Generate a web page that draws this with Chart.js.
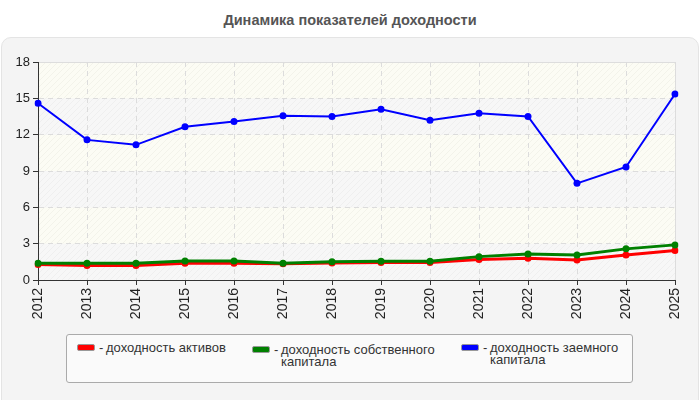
<!DOCTYPE html>
<html>
<head>
<meta charset="utf-8">
<script src="https://cdn.jsdelivr.net/npm/chart.js@4.4.1/dist/chart.umd.min.js"></script>
<style>
  html, body { margin: 0; padding: 0; background: #fff; }
  body { width: 700px; height: 400px; position: relative; overflow: hidden; font-family: "Liberation Sans", Arial, sans-serif; }
  #title { position: absolute; top: 12px; left: 0; width: 700px; text-align: center; font-weight: bold; font-size: 14.5px; color: #555; }
  #panel { position: absolute; top: 37px; left: 1px; width: 696px; height: 380px; background: #f4f4f4; border: 1px solid #e4e4e4; border-radius: 10px; }
  #wrap { position: absolute; top: 0; left: 0; width: 700px; height: 330px; }
  #legend { position: absolute; top: 334px; left: 66px; width: 565px; height: 47px; background: #fafafa; border: 1px solid #aaa; border-radius: 3px; }
  .item { position: absolute; font-size: 13px; color: #333; line-height: 12px; }
  .sw { position: absolute; left: 0; top: 0; width: 16px; height: 5px; border: 1px solid #999; border-radius: 2px; }
  .dash { position: absolute; left: 22px; top: -2px; }
  .txt { position: absolute; left: 29px; top: -2px; white-space: nowrap; }
</style>
</head>
<body>
<div id="title">Динамика показателей доходности</div>
<div id="panel"></div>
<div id="wrap"><canvas id="chart"></canvas></div>
<div id="legend"></div>
<script>
// данные
const years = ['2012','2013','2014','2015','2016','2017','2018','2019','2020','2021','2022','2023','2024','2025'];
const assetsReturn = [1.27, 1.2, 1.2, 1.38, 1.38, 1.35, 1.4, 1.44, 1.44, 1.69, 1.8, 1.66, 2.07, 2.43];
const equityReturn = [1.38, 1.38, 1.38, 1.57, 1.57, 1.38, 1.5, 1.55, 1.55, 1.93, 2.15, 2.07, 2.57, 2.9];
const debtReturn = [14.6, 11.57, 11.16, 12.65, 13.09, 13.56, 13.5, 14.1, 13.2, 13.76, 13.5, 7.98, 9.33, 15.36];
const seriesNames = [['доходность активов'], ['доходность собственного', 'капитала'], ['доходность заемного', 'капитала']];
const seriesColors = ['#ff0000', '#008000', '#0000ff'];
const yTicks = [0, 3, 6, 9, 12, 15, 18];

function hatch(bg, line) {
  const c = document.createElement('canvas');
  c.width = 6; c.height = 6;
  const x = c.getContext('2d');
  x.fillStyle = bg; x.fillRect(0, 0, 6, 6);
  x.strokeStyle = line; x.lineWidth = 1;
  x.beginPath();
  x.moveTo(0, 6); x.lineTo(6, 0);
  x.moveTo(-1, 1); x.lineTo(1, -1);
  x.moveTo(5, 7); x.lineTo(7, 5);
  x.stroke();
  return x.createPattern(c, 'repeat');
}

const bandsPlugin = {
  id: 'bands',
  beforeDraw(chart) {
    const { ctx, chartArea: a, scales: { y } } = chart;
    const gray = hatch('#f7f7f7', '#efefef');
    const yellow = hatch('#fcfcf4', '#f3f3ea');
    ctx.save();
    for (let i = 0; i < yTicks.length - 1; i++) {
      const top = y.getPixelForValue(yTicks[i + 1]);
      const bot = y.getPixelForValue(yTicks[i]);
      ctx.fillStyle = i % 2 === 0 ? gray : yellow;
      ctx.fillRect(a.left, top, a.right - a.left, bot - top);
    }
    ctx.strokeStyle = '#dddddd';
    ctx.lineWidth = 1;
    ctx.beginPath();
    ctx.moveTo(a.left, a.top + 0.5); ctx.lineTo(a.right + 0.5, a.top + 0.5); ctx.lineTo(a.right + 0.5, a.bottom);
    ctx.stroke();
    ctx.restore();
  }
};

const data = [assetsReturn, equityReturn, debtReturn];
new Chart(document.getElementById('chart'), {
  type: 'line',
  data: {
    labels: years,
    datasets: data.map((d, i) => ({
      label: seriesNames[i].join(' '),
      data: d,
      borderColor: seriesColors[i],
      backgroundColor: seriesColors[i],
      borderWidth: i === 2 ? 2 : 3,
      pointRadius: 3.5,
      pointHoverRadius: 3.5,
      pointBorderWidth: 0,
      tension: 0,
      order: 3 - i
    }))
  },
  options: {
    responsive: true,
    maintainAspectRatio: false,
    animation: false,
    layout: { padding: { top: 62, right: 25, left: 0, bottom: 0 } },
    plugins: { legend: { display: false }, title: { display: false }, tooltip: { enabled: false } },
    scales: {
      x: {
        offset: false,
        afterFit(s) { s.height = 50; },
        grid: { color: '#dcdcdc', tickColor: '#333', tickLength: 5 },
        border: { display: true, color: '#333', width: 1, dash: [5, 4] },
        ticks: { autoSkip: false, minRotation: 90, maxRotation: 90, padding: 3, color: '#222', font: { family: 'Liberation Sans', size: 14 } }
      },
      y: {
        min: 0, max: 18,
        afterFit(s) { s.width = 38; },
        afterBuildTicks(s) { s.ticks = yTicks.map(v => ({ value: v })); },
        grid: { color: (c) => c.tick && c.tick.value === 18 ? 'rgba(0,0,0,0)' : '#dcdcdc', tickColor: '#333', tickLength: 5 },
        border: { display: true, color: '#333', width: 1, dash: [5, 4] },
        ticks: { padding: 3, color: '#222', font: { family: 'Liberation Sans', size: 13 } }
      }
    }
  },
  plugins: [bandsPlugin]
});

// легенда
const legend = document.getElementById('legend');
const lx = [10, 185, 394];
const ly = [9, 11, 9];
seriesNames.forEach((name, i) => {
  const it = document.createElement('div');
  it.className = 'item';
  it.style.left = lx[i] + 'px';
  it.style.top = ly[i] + 'px';
  it.innerHTML = '<div class="sw" style="background:' + seriesColors[i] + '"></div>' +
    '<span class="dash">-</span><span class="txt">' + name.join('<br>') + '</span>';
  legend.appendChild(it);
});
</script>
</body>
</html>
